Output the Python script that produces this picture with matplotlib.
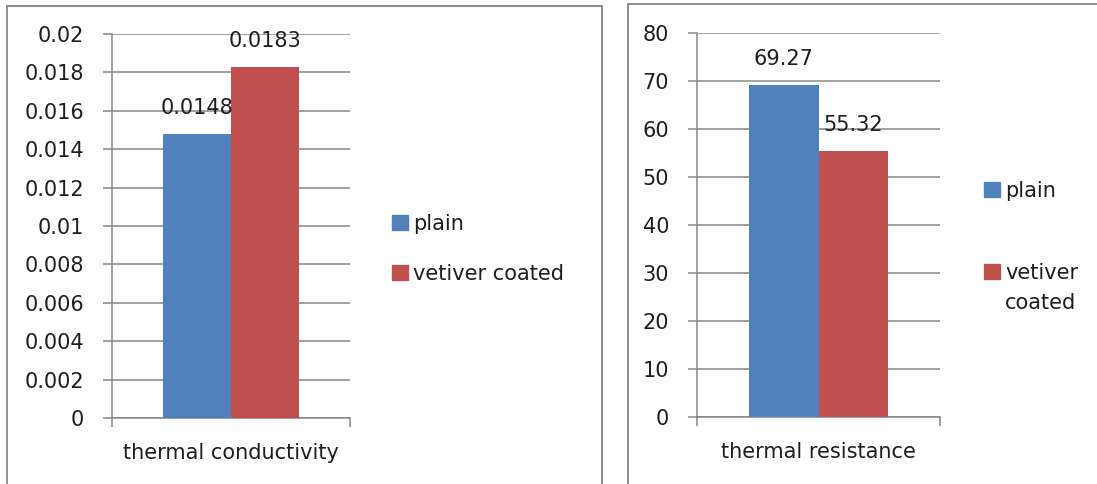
import matplotlib
matplotlib.use("Agg")
import matplotlib.pyplot as plt
from matplotlib.patches import Rectangle

# Data
series = ["plain", "vetiver coated"]
conductivity = [0.0148, 0.0183]
resistance = [69.27, 55.32]
conductivity_labels = ["0.0148", "0.0183"]
resistance_labels = ["69.27", "55.32"]
conductivity_ticks = [0, 0.002, 0.004, 0.006, 0.008, 0.01, 0.012, 0.014, 0.016, 0.018, 0.02]
conductivity_ticklabels = ["0", "0.002", "0.004", "0.006", "0.008", "0.01", "0.012",
                           "0.014", "0.016", "0.018", "0.02"]
resistance_ticks = [0, 10, 20, 30, 40, 50, 60, 70, 80]
resistance_ticklabels = ["0", "10", "20", "30", "40", "50", "60", "70", "80"]
colors = ["#4F81BD", "#C0504D"]

W, H = 1097, 484
DPI = 100
FS = 15
TXT = "#1e1e1e"
GRID = "#888888"

plt.rcParams["font.family"] = ["DejaVu Sans"]

fig = plt.figure(figsize=(W / DPI, H / DPI), dpi=DPI)


def px_box(x0, y0, x1, y1):
    return [x0 / W, 1 - y1 / H, (x1 - x0) / W, (y1 - y0) / H]


# Panel frames
for (x0, y0, x1, y1) in [(7, 6, 602, 500), (628, 4, 1110, 500)]:
    fig.add_artist(Rectangle((x0 / W, 1 - y1 / H), (x1 - x0) / W, (y1 - y0) / H,
                             transform=fig.transFigure, fill=False,
                             edgecolor="#8e8e8e", linewidth=1.4, clip_on=False))


def draw_panel(ax, values, labels, ticks, ticklabels, ymax, xlabel):
    bw = 0.2857
    offsets = [-bw / 2, bw / 2]
    ax.set_xlim(-0.5, 0.5)
    ax.set_ylim(0, ymax)
    for v, lab, off, c in zip(values, labels, offsets, colors):
        ax.bar(off, v, width=bw, color=c, zorder=3)
        ax.annotate(lab, xy=(off, v), xytext=(0, 26), textcoords="offset pixels",
                    ha="center", va="center", fontsize=FS, color=TXT, zorder=4)
    ax.set_yticks(ticks, labels=ticklabels)
    ax.yaxis.grid(True, color=GRID, linewidth=1.1, zorder=1)
    ax.set_axisbelow(True)
    for s in ["top", "right"]:
        ax.spines[s].set_visible(False)
    for s in ["left", "bottom"]:
        ax.spines[s].set_color(GRID)
        ax.spines[s].set_linewidth(1.1)
    ax.tick_params(axis="y", length=6.5, width=1.1, color=GRID, pad=13.5,
                   labelsize=FS, labelcolor=TXT)
    ax.set_xticks([-0.5, 0.5], labels=["", ""])
    ax.tick_params(axis="x", which="major", length=6.5, width=1.1, color=GRID)
    ax.set_xticks([0], labels=[xlabel], minor=True)
    ax.tick_params(axis="x", which="minor", length=0, pad=18, labelsize=FS,
                   labelcolor=TXT)


ax1 = fig.add_axes(px_box(112, 34, 350, 418))
draw_panel(ax1, conductivity, conductivity_labels, conductivity_ticks,
           conductivity_ticklabels, 0.02, "thermal conductivity")

ax2 = fig.add_axes(px_box(697, 33, 940, 417))
draw_panel(ax2, resistance, resistance_labels, resistance_ticks,
           resistance_ticklabels, 80, "thermal resistance")

handles = [Rectangle((0, 0), 1, 1, color=c) for c in colors]

leg1 = fig.legend(handles, series, loc="center left",
                  bbox_to_anchor=(392 / W, 1 - 249 / H), bbox_transform=fig.transFigure,
                  frameon=False, fontsize=FS, borderpad=0, borderaxespad=0,
                  handlelength=0.77, handleheight=0.75, handletextpad=0.25,
                  labelspacing=1.45)
for t in leg1.get_texts():
    t.set_color(TXT)

leg2 = fig.legend(handles, ["plain", "vetiver\ncoated"], loc="center left",
                  bbox_to_anchor=(984 / W, 1 - 247 / H), bbox_transform=fig.transFigure,
                  frameon=False, fontsize=FS, borderpad=0, borderaxespad=0,
                  handlelength=0.77, handleheight=0.75, handletextpad=0.25,
                  labelspacing=3.0)
for t in leg2.get_texts():
    t.set_color(TXT)
    t.set_linespacing(1.65)
# keep the swatch level with the first line of the two-line entry
p = leg2.get_patches()[1]
p.set_y(p.get_y() + 12.5)

fig.savefig("out.png", dpi=DPI)
